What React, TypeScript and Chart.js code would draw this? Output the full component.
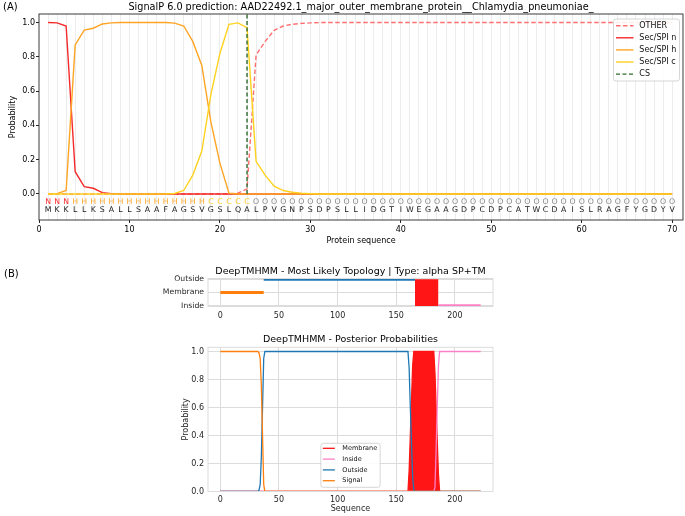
import React, { useEffect, useRef } from "react";
import { Chart, registerables } from "chart.js";

Chart.register(...registerables);

const FONT = '"DejaVu Sans", "Liberation Sans", Arial, sans-serif';

// ---------------- Panel A data (SignalP 6.0) ----------------
const titleA =
  "SignalP 6.0 prediction: AAD22492.1_major_outer_membrane_protein__Chlamydia_pneumoniae_";
const sequence = "MKKLLKSALLSAAFAGSVGSLQALPVGNPSDPSLLIDGTIWEGAAGDPCDPCATWCDAISLRAGFYGDYV".split("");
const regionLabels = (
  "NNN" + "HHHHHHHHHHHHHHH" + "CCCCC" +
  "OOOOOOOOOOOOOOOOOOOOOOOOOOOOOOOOOOOOOOOOOOOOOOO"
).split("");
const positions = sequence.map((_, i) => i + 1);

const otherProb = [
  0, 0, 0, 0, 0, 0, 0, 0, 0, 0,
  0, 0, 0, 0, 0, 0, 0, 0, 0, 0,
  0, 0.005, 0.03, 0.81, 0.89, 0.955, 0.98, 0.99, 0.995, 0.998,
  1, 1, 1, 1, 1, 1, 1, 1, 1, 1,
  1, 1, 1, 1, 1, 1, 1, 1, 1, 1,
  1, 1, 1, 1, 1, 1, 1, 1, 1, 1,
  1, 1, 1, 1, 1, 1, 1, 1, 1, 1,
];
const secN = [
  1, 0.998, 0.98, 0.13, 0.043, 0.033, 0.008, 0.002, 0, 0,
  0, 0, 0, 0, 0, 0, 0, 0, 0, 0,
  0, 0, 0, 0, 0, 0, 0, 0, 0, 0,
  0, 0, 0, 0, 0, 0, 0, 0, 0, 0,
  0, 0, 0, 0, 0, 0, 0, 0, 0, 0,
  0, 0, 0, 0, 0, 0, 0, 0, 0, 0,
  0, 0, 0, 0, 0, 0, 0, 0, 0, 0,
];
const secH = [
  0, 0.002, 0.02, 0.87, 0.956, 0.967, 0.992, 0.998, 1, 1,
  1, 1, 1, 1, 0.997, 0.98, 0.89, 0.75, 0.42, 0.18,
  0.005, 0, 0, 0, 0, 0, 0, 0, 0, 0,
  0, 0, 0, 0, 0, 0, 0, 0, 0, 0,
  0, 0, 0, 0, 0, 0, 0, 0, 0, 0,
  0, 0, 0, 0, 0, 0, 0, 0, 0, 0,
  0, 0, 0, 0, 0, 0, 0, 0, 0, 0,
];
const secC = [
  0, 0, 0, 0, 0, 0, 0, 0, 0, 0,
  0, 0, 0, 0, 0.003, 0.02, 0.11, 0.25, 0.58, 0.82,
  0.99, 0.998, 0.97, 0.19, 0.11, 0.045, 0.02, 0.01, 0.005, 0.002,
  0, 0, 0, 0, 0, 0, 0, 0, 0, 0,
  0, 0, 0, 0, 0, 0, 0, 0, 0, 0,
  0, 0, 0, 0, 0, 0, 0, 0, 0, 0,
  0, 0, 0, 0, 0, 0, 0, 0, 0, 0,
];
const csPosition = 23;
const xTicksA = [0, 10, 20, 30, 40, 50, 60, 70];
const yTicksA = [0, 0.2, 0.4, 0.6, 0.8, 1.0];

// ---------------- Panel B data (DeepTMHMM) ----------------
const titleTopology = "DeepTMHMM - Most Likely Topology | Type: alpha SP+TM";
const titlePosterior = "DeepTMHMM - Posterior Probabilities";
const topologyLevels = ["Inside", "Membrane", "Outside"];
const signalSegment = [0, 37];
const outsideSegment = [37, 166];
const tmSegment = [166, 186];
const insideSegment = [186, 222];
const xTicksB = [0, 50, 100, 150, 200];
const yTicksPosterior = [0, 0.2, 0.4, 0.6, 0.8, 1.0];

const membraneX = [0, 160, 161, 162, 163, 164, 165, 182, 183, 184, 185, 186, 187, 222];
const membraneY = [0, 0, 0.15, 0.4, 0.65, 0.9, 1, 1, 0.85, 0.6, 0.35, 0.12, 0, 0];
const insideX = [0, 182, 183, 184, 185, 186, 187, 222];
const insideY = [0, 0, 0.03, 0.3, 0.62, 0.9, 1, 1];
const outsideX = [0, 32, 33, 34, 35, 36, 37, 38, 160, 161, 162, 163, 164, 165, 166, 222];
const outsideY = [0, 0, 0.01, 0.05, 0.25, 0.6, 0.95, 1, 1, 0.88, 0.6, 0.35, 0.1, 0.01, 0, 0];
const signalX = [0, 32, 33, 34, 35, 36, 37, 38, 222];
const signalY = [1, 1, 0.99, 0.95, 0.75, 0.4, 0.05, 0, 0];

// ---------------- styles ----------------
const regionColors: Record<string, string> = {
  N: "#ff2a2a",
  H: "#ffa424",
  C: "#ffc81a",
  O: "#8a8a8a",
};
const TRANSPARENT = "rgba(0,0,0,0)";

function roundRect(ctx: CanvasRenderingContext2D, x: number, y: number, w: number, h: number, r: number) {
  ctx.beginPath();
  ctx.moveTo(x + r, y);
  ctx.lineTo(x + w - r, y);
  ctx.arcTo(x + w, y, x + w, y + r, r);
  ctx.lineTo(x + w, y + h - r);
  ctx.arcTo(x + w, y + h, x + w - r, y + h, r);
  ctx.lineTo(x + r, y + h);
  ctx.arcTo(x, y + h, x, y + h - r, r);
  ctx.lineTo(x, y + r);
  ctx.arcTo(x, y, x + r, y, r);
  ctx.closePath();
}

function drawLegend(
  ctx: CanvasRenderingContext2D,
  datasets: any[],
  bx: number,
  by: number,
  bw: number,
  bh: number,
  o: { first: number; step: number; l0: number; l1: number; tx: number; font: number; lw: number }
) {
  roundRect(ctx, bx, by, bw, bh, 2.5);
  ctx.fillStyle = "rgba(255,255,255,0.85)";
  ctx.fill();
  ctx.strokeStyle = "#cccccc";
  ctx.lineWidth = 0.8;
  ctx.stroke();
  datasets.forEach((d, k) => {
    const yy = by + o.first + k * o.step;
    ctx.beginPath();
    ctx.setLineDash(d.borderDash || []);
    ctx.strokeStyle = d.borderColor;
    ctx.lineWidth = o.lw;
    ctx.moveTo(bx + o.l0, yy);
    ctx.lineTo(bx + o.l1, yy);
    ctx.stroke();
    ctx.setLineDash([]);
    ctx.fillStyle = "#111";
    ctx.font = `${o.font}px ${FONT}`;
    ctx.textAlign = "left";
    ctx.textBaseline = "middle";
    ctx.fillText(d.label, bx + o.tx, yy);
  });
}

// ---------------- Panel A ----------------
const panelAPlugin = {
  id: "panelA",
  afterDraw(chart: any) {
    const { ctx, chartArea: a, scales } = chart;
    const x = scales.x;
    const y = scales.y;
    ctx.save();
    ctx.textAlign = "center";
    ctx.textBaseline = "middle";
    ctx.font = `7.8px ${FONT}`;
    positions.forEach((p, i) => {
      const px = x.getPixelForValue(p);
      ctx.fillStyle = regionColors[regionLabels[i]];
      ctx.fillText(regionLabels[i], px, y.getPixelForValue(-0.045));
      ctx.fillStyle = "#1a1a1a";
      ctx.fillText(sequence[i], px, y.getPixelForValue(-0.094));
    });
    // frame
    ctx.strokeStyle = "#262626";
    ctx.lineWidth = 0.9;
    ctx.strokeRect(a.left, a.top, a.right - a.left, a.bottom - a.top);
    // title
    ctx.fillStyle = "#000";
    ctx.font = `9.7px ${FONT}`;
    ctx.textBaseline = "alphabetic";
    ctx.textAlign = "center";
    ctx.fillText(titleA, (a.left + a.right) / 2, a.top - 4.5);
    ctx.font = `10px ${FONT}`;
    ctx.textAlign = "left";
    ctx.fillText("(A)", 3, 10);
    // axis titles
    ctx.font = `8px ${FONT}`;
    ctx.textAlign = "center";
    ctx.textBaseline = "middle";
    ctx.fillText("Protein sequence", (a.left + a.right) / 2, 240.5);
    ctx.save();
    ctx.translate(13, (a.top + a.bottom) / 2);
    ctx.rotate(-Math.PI / 2);
    ctx.fillText("Probability", 0, 0);
    ctx.restore();
    // legend
    const bw = 66;
    const bh = 62;
    drawLegend(ctx, chart.data.datasets, a.right - 3.5 - bw, a.top + 5, bw, bh, {
      first: 6.7,
      step: 12.1,
      l0: 2.5,
      l1: 20,
      tx: 25.8,
      font: 8,
      lw: 1.4,
    });
    ctx.restore();
  },
};

function makePanelA() {
  const pts = (vals: number[]) => positions.map((p, i) => ({ x: p, y: vals[i] }));
  const yMax = 1.05;
  const common = { pointRadius: 0, borderWidth: 1.4, tension: 0, fill: false };
  return {
    type: "line",
    data: {
      datasets: [
        { ...common, label: "OTHER", data: pts(otherProb), borderColor: "#ff6f6f", borderDash: [4.5, 2.5], order: 5 },
        { ...common, label: "Sec/SPI n", data: pts(secN), borderColor: "#f42a2a", order: 4 },
        { ...common, label: "Sec/SPI h", data: pts(secH), borderColor: "#ffa424", order: 3 },
        { ...common, label: "Sec/SPI c", data: pts(secC), borderColor: "#ffd21f", order: 2 },
        {
          ...common,
          label: "CS",
          data: [
            { x: csPosition, y: 0 },
            { x: csPosition, y: yMax },
          ],
          borderColor: "#2f6b2f",
          borderDash: [4, 2.5],
          order: 1,
        },
      ],
    },
    options: {
      animation: false,
      responsive: false,
      events: [],
      layout: { padding: { left: 0, top: 14, right: 2, bottom: 0 } },
      plugins: { legend: { display: false }, tooltip: { enabled: false }, title: { display: false } },
      scales: {
        x: {
          type: "linear",
          min: 0,
          max: 71.2,
          afterBuildTicks: (s: any) => {
            s.ticks = [0, ...positions].map((v) => ({ value: v }));
          },
          afterFit: (s: any) => {
            s.height = 35;
          },
          border: { display: false },
          grid: {
            color: (c: any) => (c.tick && c.tick.value > 0 ? "#ececec" : TRANSPARENT),
            tickColor: (c: any) => (c.tick && xTicksA.includes(c.tick.value) ? "#262626" : TRANSPARENT),
            drawTicks: true,
            tickLength: 3,
            lineWidth: 1,
          },
          ticks: {
            autoSkip: false,
            maxRotation: 0,
            padding: 2,
            color: "#000",
            font: { family: FONT, size: 8 },
            callback: (v: any) => (xTicksA.includes(v) ? String(v) : ""),
          },
        },
        y: {
          type: "linear",
          min: -0.152,
          max: yMax,
          afterBuildTicks: (s: any) => {
            s.ticks = yTicksA.map((v) => ({ value: v }));
          },
          afterFit: (s: any) => {
            s.width = 39;
          },
          border: { display: false },
          grid: { drawOnChartArea: false, drawTicks: true, tickLength: 3, tickColor: "#262626" },
          ticks: {
            padding: 1,
            color: "#000",
            font: { family: FONT, size: 8 },
            callback: (v: any) => Number(v).toFixed(1),
          },
        },
      },
    },
    plugins: [panelAPlugin],
  };
}

// ---------------- Panel B ----------------
const B_GRID = "#dcdcdc";

const topologyPlugin = {
  id: "topology",
  afterDraw(chart: any) {
    const { ctx, chartArea: a } = chart;
    ctx.save();
    ctx.strokeStyle = B_GRID;
    ctx.lineWidth = 1;
    ctx.strokeRect(a.left, a.top, a.right - a.left, a.bottom - a.top);
    ctx.fillStyle = "#000";
    ctx.font = `9.5px ${FONT}`;
    ctx.textAlign = "center";
    ctx.textBaseline = "alphabetic";
    ctx.fillText(titleTopology, (a.left + a.right) / 2, a.top - 4.5);
    ctx.font = `10px ${FONT}`;
    ctx.textAlign = "left";
    ctx.fillText("(B)", 4, 19);
    ctx.restore();
  },
};

const posteriorPlugin = {
  id: "posterior",
  afterDraw(chart: any) {
    const { ctx, chartArea: a } = chart;
    ctx.save();
    ctx.strokeStyle = B_GRID;
    ctx.lineWidth = 1;
    ctx.strokeRect(a.left, a.top, a.right - a.left, a.bottom - a.top);
    ctx.fillStyle = "#000";
    ctx.font = `9.5px ${FONT}`;
    ctx.textAlign = "center";
    ctx.textBaseline = "alphabetic";
    ctx.fillText(titlePosterior, (a.left + a.right) / 2, a.top - 5.3);
    ctx.fillStyle = "#262626";
    ctx.font = `8px ${FONT}`;
    ctx.textBaseline = "middle";
    ctx.fillText("Sequence", (a.left + a.right) / 2, 182.5);
    ctx.save();
    ctx.translate(185.5, (a.top + a.bottom) / 2);
    ctx.rotate(-Math.PI / 2);
    ctx.fillText("Probability", 0, 0);
    ctx.restore();
    const bw = 59.3;
    const bh = 44;
    drawLegend(ctx, chart.data.datasets, (a.left + a.right) / 2 - bw / 2, a.bottom - 4.2 - bh, bw, bh, {
      first: 5,
      step: 10.8,
      l0: 2,
      l1: 14,
      tx: 21.5,
      font: 6.5,
      lw: 1.3,
    });
    ctx.restore();
  },
};

const bXScale = (height: number, pad: number) => ({
  type: "linear",
  min: -10.5,
  max: 232.5,
  afterBuildTicks: (s: any) => {
    s.ticks = xTicksB.map((v) => ({ value: v }));
  },
  afterFit: (s: any) => {
    s.height = height;
  },
  border: { display: false },
  grid: { color: B_GRID, lineWidth: 1, drawTicks: false },
  ticks: {
    autoSkip: false,
    maxRotation: 0,
    padding: pad,
    color: "#262626",
    font: { family: FONT, size: 8 },
    callback: (v: any) => String(v),
  },
});

function makeTopology() {
  const seg = (s: number[], level: string) => s.map((x) => ({ x, y: topologyLevels.indexOf(level) }));
  const common = { pointRadius: 0, borderWidth: 3, tension: 0, clip: 0 };
  return {
    type: "line",
    data: {
      datasets: [
        { ...common, label: "Signal", data: seg(signalSegment, "Membrane"), borderColor: "#ff7f0e", fill: false },
        { ...common, label: "Outside", data: seg(outsideSegment, "Outside"), borderColor: "#1f77b4", fill: false },
        {
          ...common,
          label: "TM",
          data: seg(tmSegment, "Outside"),
          borderColor: "#ff1515",
          borderWidth: 0,
          backgroundColor: "#ff1515",
          fill: "start",
        },
        { ...common, label: "Inside", data: seg(insideSegment, "Inside"), borderColor: "#ff80c4", fill: false },
      ],
    },
    options: {
      animation: false,
      responsive: false,
      events: [],
      layout: { padding: { left: 0, top: 20.5, right: 192, bottom: 0 } },
      plugins: { legend: { display: false }, tooltip: { enabled: false }, title: { display: false } },
      scales: {
        x: bXScale(15.5, 5),
        y: {
          type: "linear",
          min: -0.06,
          max: 2.06,
          afterBuildTicks: (s: any) => {
            s.ticks = topologyLevels.map((_, i) => ({ value: i }));
          },
          afterFit: (s: any) => {
            s.width = 208;
          },
          border: { display: false },
          grid: { color: B_GRID, lineWidth: 1, drawTicks: false },
          ticks: {
            padding: 4,
            color: "#262626",
            font: { family: FONT, size: 7.7 },
            callback: (v: any) => topologyLevels[Math.round(v)],
          },
        },
      },
    },
    plugins: [topologyPlugin],
  };
}

function makePosterior() {
  const xy = (xs: number[], ys: number[]) => xs.map((x, i) => ({ x, y: ys[i] }));
  const common = { pointRadius: 0, borderWidth: 1.3, tension: 0, clip: 0 };
  return {
    type: "line",
    data: {
      datasets: [
        {
          ...common,
          label: "Membrane",
          data: xy(membraneX, membraneY),
          borderColor: "#ff1515",
          backgroundColor: "#ff1515",
          fill: "origin",
          order: 4,
        },
        { ...common, label: "Inside", data: xy(insideX, insideY), borderColor: "#ff7fc6", fill: false, order: 3 },
        { ...common, label: "Outside", data: xy(outsideX, outsideY), borderColor: "#1f77b4", fill: false, order: 2 },
        { ...common, label: "Signal", data: xy(signalX, signalY), borderColor: "#ff7f0e", fill: false, order: 1 },
      ],
    },
    options: {
      animation: false,
      responsive: false,
      events: [],
      layout: { padding: { left: 0, top: 21.3, right: 192, bottom: 0 } },
      plugins: { legend: { display: false }, tooltip: { enabled: false }, title: { display: false } },
      scales: {
        x: bXScale(24.5, 3.5),
        y: {
          type: "linear",
          min: 0,
          max: 1.03,
          afterBuildTicks: (s: any) => {
            s.ticks = yTicksPosterior.map((v) => ({ value: v }));
          },
          afterFit: (s: any) => {
            s.width = 208;
          },
          border: { display: false },
          grid: { color: B_GRID, lineWidth: 1, drawTicks: false },
          ticks: {
            padding: 4,
            color: "#262626",
            font: { family: FONT, size: 8 },
            callback: (v: any) => Number(v).toFixed(1),
          },
        },
      },
    },
    plugins: [posteriorPlugin],
  };
}

// ---------------- React ----------------
function ChartBox(props: { make: () => any; left: number; top: number; width: number; height: number }) {
  const ref = useRef<HTMLCanvasElement>(null);
  useEffect(() => {
    const chart = new Chart(ref.current as HTMLCanvasElement, props.make());
    return () => chart.destroy();
  }, []);
  return (
    <canvas
      ref={ref}
      width={props.width}
      height={props.height}
      style={{ position: "absolute", left: props.left, top: props.top, width: props.width, height: props.height }}
    />
  );
}

export default function App() {
  return (
    <div
      style={{
        position: "fixed",
        left: 0,
        top: 0,
        width: 685,
        height: 516,
        background: "#fff",
        overflow: "hidden",
      }}
    >
      <ChartBox make={makePanelA} left={0} top={0} width={685} height={255} />
      <ChartBox make={makeTopology} left={0} top={258} width={685} height={64} />
      <ChartBox make={makePosterior} left={0} top={326} width={685} height={190} />
    </div>
  );
}
